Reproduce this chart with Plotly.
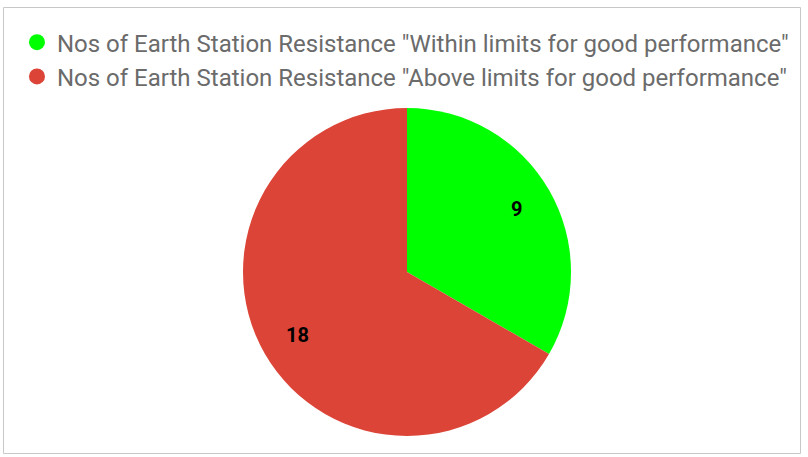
import math
import plotly.graph_objects as go

# Earth station resistance survey results
categories = [
    'Nos of Earth Station Resistance "Within limits for good performance"',
    'Nos of Earth Station Resistance "Above limits for good performance"',
]
counts = [9, 18]
colors = ["#00ff00", "#dc4437"]

W, H = 808, 457
cx, cy, r = 407, 272, 164

fig = go.Figure()

fig.add_trace(go.Pie(
    labels=categories,
    values=counts,
    sort=False,
    direction="clockwise",
    rotation=0,
    marker=dict(colors=colors, line=dict(width=0)),
    textinfo="none",
    showlegend=False,
    hoverinfo="label+value",
    domain=dict(x=[(cx - r) / W, (cx + r) / W],
                y=[(H - cy - r) / H, (H - cy + r) / H]),
))

# Value labels placed toward the rim of each slice (clockwise from 12 o'clock)
total = sum(counts)
annotations = []
start = 0.0
for v in counts:
    mid = (start + v / 2) / total * 2 * math.pi
    start += v
    lx = cx + 0.77 * r * math.sin(mid)
    ly = cy - 0.77 * r * math.cos(mid)
    annotations.append(dict(
        x=lx / W, y=(H - ly) / H, xref="paper", yref="paper",
        xanchor="center", yanchor="middle",
        text=f"<b>{v}</b>", showarrow=False,
        font=dict(family="Roboto", size=20, color="black"),
    ))

# Legend entries with round markers
for name, col in zip(categories, colors):
    fig.add_trace(go.Scatter(
        x=[None], y=[None], mode="markers", name=name,
        marker=dict(symbol="circle", size=17, color=col),
        showlegend=True,
    ))

fig.update_layout(
    width=W, height=H,
    margin=dict(l=0, r=0, t=0, b=0),
    paper_bgcolor="white",
    plot_bgcolor="white",
    xaxis=dict(visible=False),
    yaxis=dict(visible=False),
    legend=dict(
        x=0.021, y=0.956, xanchor="left", yanchor="top",
        font=dict(family="Roboto", size=24, color="#6b6b6b"),
        itemwidth=30, tracegroupgap=0,
        bgcolor="rgba(0,0,0,0)",
    ),
    annotations=annotations,
    shapes=[dict(
        type="rect", xref="paper", yref="paper",
        x0=3.5 / W, x1=800.5 / W, y0=(H - 453.5) / H, y1=(H - 7.5) / H,
        line=dict(color="#c8c8c8", width=1),
    )],
)

fig.write_html("out.html")
